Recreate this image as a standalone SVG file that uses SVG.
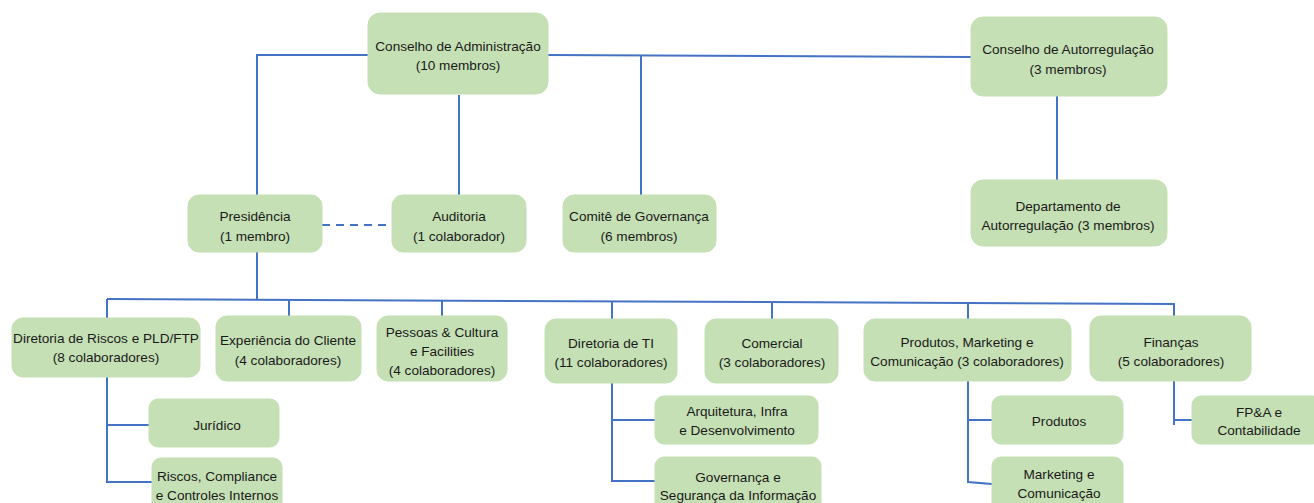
<svg xmlns="http://www.w3.org/2000/svg" width="1314" height="503" viewBox="0 0 1314 503">
<style>
.b{fill:#C5E0B4;stroke:#C5E0B4;stroke-width:1}
.t{font-family:"Liberation Sans",Arial,sans-serif;font-size:13.6px;fill:#1a1a1a;text-anchor:middle}
.c{fill:none;stroke:#4472C4;stroke-width:2}
.d{fill:none;stroke:#4472C4;stroke-width:2;stroke-dasharray:8,6}
</style>
<rect width="1314" height="503" fill="#ffffff"/>
<g id="connectors">
<polyline class="c" points="368,55 257,55 257,195"/>
<line class="c" x1="548" y1="55" x2="971" y2="57"/>
<line class="c" x1="641" y1="55" x2="641" y2="195"/>
<line class="c" x1="459" y1="95" x2="459" y2="195"/>
<line class="c" x1="1057" y1="96" x2="1057" y2="180"/>
<line class="d" x1="322" y1="225" x2="388" y2="225"/>
<line class="c" x1="257" y1="252" x2="257" y2="299"/>
<line class="c" x1="107" y1="299" x2="1175" y2="304"/>
<line class="c" x1="107" y1="299" x2="107" y2="318"/>
<line class="c" x1="289" y1="300" x2="289" y2="316"/>
<line class="c" x1="442" y1="301" x2="442" y2="316"/>
<line class="c" x1="612" y1="301" x2="612" y2="319"/>
<line class="c" x1="772" y1="302" x2="772" y2="319"/>
<line class="c" x1="968" y1="302" x2="968" y2="319"/>
<line class="c" x1="1174" y1="303" x2="1174" y2="316"/>
<polyline class="c" points="107,377 107,482 152,482"/>
<line class="c" x1="107" y1="425" x2="149" y2="425"/>
<polyline class="c" points="612,383 612,481 655,481"/>
<line class="c" x1="612" y1="420" x2="655" y2="420"/>
<polyline class="c" points="968,381 968,482 992,484"/>
<line class="c" x1="968" y1="420" x2="992" y2="420"/>
<polyline class="c" points="1174,381 1174,425"/>
<line class="c" x1="1174" y1="420" x2="1192" y2="420"/>
</g>
<g id="n_ca"><rect class="b" x="368" y="13" width="180" height="81" rx="12"/><text class="t" x="458" y="51">Conselho de Administração</text><text class="t" x="458" y="70">(10 membros)</text></g>
<g id="n_car"><rect class="b" x="971" y="17" width="196" height="79" rx="12"/><text class="t" x="1068" y="54">Conselho de Autorregulação</text><text class="t" x="1068" y="74">(3 membros)</text></g>
<g id="n_dar"><rect class="b" x="971" y="180" width="196" height="66" rx="12"/><text class="t" x="1068" y="211">Departamento de</text><text class="t" x="1068" y="230">Autorregulação (3 membros)</text></g>
<g id="n_pres"><rect class="b" x="188" y="195" width="134" height="57" rx="11"/><text class="t" x="255" y="221">Presidência</text><text class="t" x="255" y="241">(1 membro)</text></g>
<g id="n_aud"><rect class="b" x="392" y="195" width="134" height="57" rx="11"/><text class="t" x="459" y="221">Auditoria</text><text class="t" x="459" y="241">(1 colaborador)</text></g>
<g id="n_cg"><rect class="b" x="563" y="195" width="153" height="57" rx="11"/><text class="t" x="639" y="221">Comitê de Governança</text><text class="t" x="639" y="241">(6 membros)</text></g>
<g id="n_drp"><rect class="b" x="12" y="318" width="188" height="59" rx="11"/><text class="t" x="106" y="343">Diretoria de Riscos e PLD/FTP</text><text class="t" x="106" y="362">(8 colaboradores)</text></g>
<g id="n_exp"><rect class="b" x="216" y="316" width="145" height="65" rx="11"/><text class="t" x="288" y="345">Experiência do Cliente</text><text class="t" x="288" y="365">(4 colaboradores)</text></g>
<g id="n_pes"><rect class="b" x="377" y="316" width="130" height="65" rx="11"/><text class="t" x="442" y="337">Pessoas &amp; Cultura</text><text class="t" x="442" y="356">e Facilities</text><text class="t" x="442" y="375">(4 colaboradores)</text></g>
<g id="n_ti"><rect class="b" x="545" y="319" width="132" height="64" rx="11"/><text class="t" x="611" y="348">Diretoria de TI</text><text class="t" x="611" y="367">(11 colaboradores)</text></g>
<g id="n_com"><rect class="b" x="705" y="319" width="133" height="64" rx="11"/><text class="t" x="772" y="348">Comercial</text><text class="t" x="772" y="367">(3 colaboradores)</text></g>
<g id="n_pmc"><rect class="b" x="864" y="319" width="207" height="62" rx="11"/><text class="t" x="967" y="347">Produtos, Marketing e</text><text class="t" x="967" y="366">Comunicação (3 colaboradores)</text></g>
<g id="n_fin"><rect class="b" x="1090" y="316" width="161" height="65" rx="11"/><text class="t" x="1171" y="347">Finanças</text><text class="t" x="1171" y="366">(5 colaboradores)</text></g>
<g id="n_jur"><rect class="b" x="149" y="399" width="130" height="48" rx="9"/><text class="t" x="217" y="430">Jurídico</text></g>
<g id="n_rci"><rect class="b" x="152" y="458" width="130" height="60" rx="9"/><text class="t" x="217" y="481">Riscos, Compliance</text><text class="t" x="217" y="500">e Controles Internos</text></g>
<g id="n_aid"><rect class="b" x="655" y="396" width="163" height="48" rx="9"/><text class="t" x="737" y="416">Arquitetura, Infra</text><text class="t" x="737" y="435">e Desenvolvimento</text></g>
<g id="n_gsi"><rect class="b" x="655" y="457" width="166" height="60" rx="9"/><text class="t" x="738" y="482">Governança e</text><text class="t" x="738" y="500">Segurança da Informação</text></g>
<g id="n_prod"><rect class="b" x="992" y="396" width="131" height="48" rx="9"/><text class="t" x="1059" y="426">Produtos</text></g>
<g id="n_mkt"><rect class="b" x="992" y="457" width="131" height="60" rx="9"/><text class="t" x="1059" y="479">Marketing e</text><text class="t" x="1059" y="498">Comunicação</text></g>
<g id="n_fpa"><rect class="b" x="1192" y="396" width="130" height="48" rx="9"/><text class="t" x="1259" y="417">FP&amp;A e</text><text class="t" x="1259" y="435">Contabilidade</text></g>
</svg>
